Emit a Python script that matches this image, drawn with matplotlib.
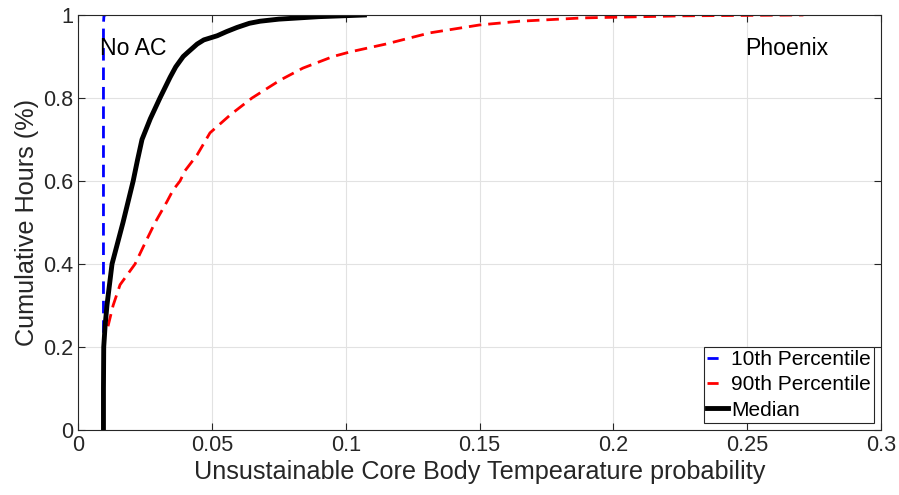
import numpy as np
import matplotlib
matplotlib.use("Agg")
import matplotlib.pyplot as plt

# curves
p10_x = [0.0095, 0.0095, 0.0097, 0.0105]
p10_y = [0.0, 0.98, 1.0, 1.0]

p90_x = [0.0112, 0.0131, 0.0157, 0.0213, 0.025, 0.0288, 0.0332, 0.0355, 0.0381,
         0.040, 0.0445, 0.0493, 0.057, 0.065, 0.0755, 0.084, 0.0953, 0.1016,
         0.115, 0.1315, 0.150, 0.165, 0.1887, 0.226, 0.271]
p90_y = [0.25, 0.30, 0.35, 0.40, 0.45, 0.50, 0.55, 0.578, 0.60,
         0.625, 0.663, 0.716, 0.76, 0.80, 0.843, 0.872, 0.90, 0.911,
         0.93, 0.957, 0.976, 0.985, 0.993, 0.998, 1.0]

median_x = [0.0095, 0.0095, 0.0096, 0.0101, 0.0108, 0.0127, 0.0168, 0.0206, 0.0222,
            0.0239, 0.027, 0.0306, 0.0344, 0.0365, 0.0393, 0.041, 0.0445, 0.047,
            0.052, 0.0555, 0.0594, 0.064, 0.068, 0.075, 0.08, 0.09, 0.107]
median_y = [0.0, 0.1, 0.2, 0.25, 0.30, 0.40, 0.50, 0.60, 0.65,
            0.70, 0.75, 0.80, 0.85, 0.875, 0.90, 0.91, 0.93, 0.94,
            0.95, 0.96, 0.97, 0.98, 0.985, 0.99, 0.992, 0.996, 1.0]

x_ticks = [0, 0.05, 0.1, 0.15, 0.2, 0.25, 0.3]
x_labels = ["0", "0.05", "0.1", "0.15", "0.2", "0.25", "0.3"]
y_ticks = [0, 0.2, 0.4, 0.6, 0.8, 1.0]
y_labels = ["0", "0.2", "0.4", "0.6", "0.8", "1"]

plt.rcParams["font.family"] = ["Liberation Sans", "DejaVu Sans"]
dark = "#262626"

fig = plt.figure(figsize=(8.99, 4.95), dpi=100)
ax = fig.add_axes([0.0868, 0.1313, 0.8932, 0.8384])

ax.plot(p10_x, p10_y, color="#0000ff", lw=2.0, dashes=(4.5, 2.5), label="10th Percentile")
ax.plot(p90_x, p90_y, color="#ff0000", lw=2.0, dashes=(4.5, 2.5), label="90th Percentile")
ax.plot(median_x, median_y, color="black", lw=3.5, label="Median")

ax.set_xlim(0, 0.3)
ax.set_ylim(0, 1)
ax.set_xticks(x_ticks)
ax.set_xticklabels(x_labels)
ax.set_yticks(y_ticks)
ax.set_yticklabels(y_labels)
ax.grid(True, color="#e2e2e2", lw=0.8)
ax.set_axisbelow(True)
ax.tick_params(direction="in", top=True, right=True, length=5, width=0.8,
               labelsize=15.6, colors=dark, labelcolor=dark)
for s in ax.spines.values():
    s.set_color(dark)
    s.set_linewidth(0.8)

ax.set_xlabel("Unsustainable Core Body Tempearature probability", fontsize=18.2, color=dark,
              labelpad=3)
ax.set_ylabel("Cumulative Hours (%)", fontsize=18.2, color=dark, labelpad=3)

ax.text(0.0083, 0.92, "No AC", fontsize=16.6, va="center", ha="left")
ax.text(0.2493, 0.92, "Phoenix", fontsize=16.6, va="center", ha="left")

leg = ax.legend(loc="lower right", fontsize=15, handlelength=1.0, handletextpad=0.15,
                borderpad=0.15, labelspacing=0.3, fancybox=False, framealpha=1,
                borderaxespad=0.35)
leg.get_frame().set_edgecolor(dark)
leg.get_frame().set_linewidth(0.8)
# short single dash in the legend for the dashed series
for ln in leg.get_lines()[:2]:
    ln.set_dashes((4, 12))

fig.savefig("out.png", dpi=100)
